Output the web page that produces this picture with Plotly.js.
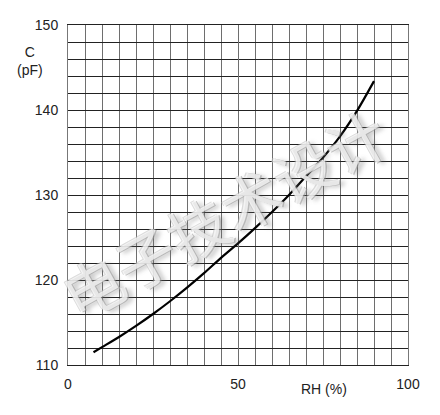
<!DOCTYPE html>
<html>
<head>
<meta charset="utf-8">
<script src="https://cdn.plot.ly/plotly-3.0.1.min.js"></script>
<style>html,body{margin:0;padding:0;background:#fff;}#chart{width:440px;height:415px;}</style>
</head>
<body>
<div id="chart"></div>
<script>
// Relative humidity (%) vs capacitance (pF)
const rh = [7.5, 10, 15, 20, 25, 30, 35, 40, 45, 50, 55, 60, 65, 70, 75, 80, 85, 90];
const capacitance = [111.5, 112.1, 113.3, 114.6, 116.0, 117.5, 119.1, 120.8, 122.6, 124.3, 126.1, 128.0, 130.0, 132.2, 134.4, 136.9, 139.9, 143.4];
const xTickVals = [0, 50, 100];
const xTickText = ['0', '50', '100'];
const yTickVals = [110, 120, 130, 140, 150];
const yTickText = ['110', '120', '130', '140', '150'];
const yLabelLines = ['C', '(pF)'];
const xLabel = 'RH (%)';
const watermark = '电子技术设计';

const font = "'Liberation Sans', Arial, Helvetica, sans-serif";

const trace = {
  x: rh, y: capacitance, type: 'scatter', mode: 'lines',
  line: {color: '#000', width: 2.2, shape: 'spline', smoothing: 0.8},
  hoverinfo: 'skip'
};

const layout = {
  width: 440, height: 415,
  margin: {l: 68, r: 32, t: 25, b: 50},
  paper_bgcolor: '#fff', plot_bgcolor: '#fff',
  showlegend: false,
  font: {family: font, size: 14, color: '#222'},
  xaxis: {
    range: [0, 100], tickmode: 'array', tickvals: xTickVals, ticktext: xTickText,
    showgrid: true, gridcolor: '#6e6e6e', gridwidth: 1,
    minor: {dtick: 5, showgrid: true, gridcolor: '#6e6e6e', gridwidth: 1},
    zeroline: false, showline: true, linecolor: '#222', linewidth: 1, mirror: true,
    ticks: 'outside', ticklen: 6, tickcolor: 'rgba(0,0,0,0)',
    tickfont: {family: font, size: 14, color: '#222'}, fixedrange: true
  },
  yaxis: {
    range: [110, 150], tickmode: 'array', tickvals: yTickVals, ticktext: yTickText,
    showgrid: true, gridcolor: '#222', gridwidth: 1,
    minor: {dtick: 2, showgrid: true, gridcolor: '#222', gridwidth: 1},
    zeroline: false, showline: true, linecolor: '#777', linewidth: 1, mirror: true,
    ticks: 'outside', ticklen: 6, tickcolor: 'rgba(0,0,0,0)',
    tickfont: {family: font, size: 14, color: '#222'}, fixedrange: true
  },
  annotations: [
    {xref: 'paper', yref: 'paper', x: -0.112, y: 0.895, xanchor: 'center', yanchor: 'middle',
     text: yLabelLines.join('<br>'), showarrow: false, align: 'center',
     font: {family: font, size: 14, color: '#222'}},
    {xref: 'paper', yref: 'paper', x: 0.753, y: -0.07, xanchor: 'center', yanchor: 'middle',
     text: xLabel, showarrow: false, font: {family: font, size: 14, color: '#222'}},
    {xref: 'paper', yref: 'paper', x: 0.455, y: 0.45, xanchor: 'center', yanchor: 'middle',
     text: watermark, showarrow: false, textangle: -29,
     font: {family: "'Noto Sans CJK SC', sans-serif", size: 60, color: 'rgba(255,255,255,0.7)',
            shadow: '1px 1px 0 rgba(150,150,150,0.8), -1px -1px 0 rgba(190,190,190,0.8), 4px 4px 4px rgba(110,110,110,0.5)'}}
  ]
};

Plotly.newPlot('chart', [trace], layout, {displayModeBar: false, staticPlot: true});
</script>
</body>
</html>
